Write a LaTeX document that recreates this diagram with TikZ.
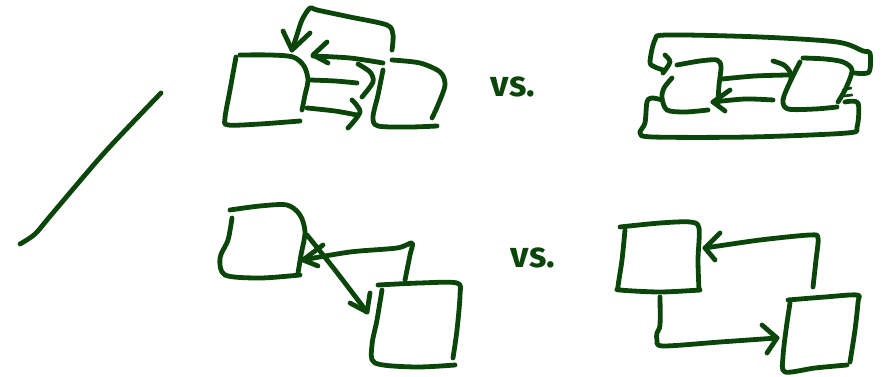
\documentclass[tikz,border=0pt]{standalone}
\usepackage{fontspec}
\setmainfont{Fira Sans}
\definecolor{inkgreen}{RGB}{10,70,10}
\tikzset{
  ink/.style={draw=inkgreen, line width=3.6pt, line cap=round, line join=round},
  vslabel/.style={text=inkgreen, font=\fontsize{27}{30}\selectfont\bfseries, inner sep=0pt}
}
\begin{document}
\begin{tikzpicture}[x=0.75pt,y=-0.75pt]
\useasboundingbox (0,0) rectangle (883,377);
% diagonal stroke
\draw[ink] plot[smooth] coordinates{(161,93) (105,152) (52,214) (35,234) (20,244)};

% ---------- top left pair ----------
\draw[ink] plot[smooth] coordinates{(240,55) (270,55) (293,57) (304,66) (308,80) (305,95) (302,110)};
\draw[ink] plot[smooth] coordinates{(236,57) (230,90) (225,118) (228,125) (260,124) (300,121)};
\draw[ink] plot[smooth] coordinates{(392,60) (420,63) (440,72) (445,85) (438,105) (432,118)};
\draw[ink] plot[smooth] coordinates{(383,70) (378,95) (373,117) (378,126) (410,127) (437,126)};
% arrows
\draw[ink] plot[smooth] coordinates{(310,80) (335,81) (357,83)};
\draw[ink] plot[smooth] coordinates{(358,64) (370,72) (373,82) (362,97)};
\draw[ink] plot[smooth] coordinates{(307,108) (335,111) (357,115)};
\draw[ink] plot[smooth] coordinates{(352,100) (360,112) (348,128)};
\draw[ink] plot[smooth] coordinates{(383,63) (350,58) (313,56)};
\draw[ink] (327,42) -- (313,55) -- (328,63);
\draw[ink] plot[smooth] coordinates{(392,50) (393,35) (387,25) (350,17) (317,10) (310,8) (302,20) (296,38) (292,50)};
\draw[ink] (283,31) -- (292,50) -- (310,33);

\node[vslabel] (vs1) at (513,87) {vs.};

% ---------- top right pair ----------
\draw[ink] plot[smooth] coordinates{(677,65) (700,61) (717,60) (721,67) (719,85) (718,102)};
\draw[ink] plot[smooth] coordinates{(672,78) (664,88) (662,98) (667,110) (685,112) (708,110)};
\draw[ink] plot[smooth] coordinates{(803,58) (825,59) (843,62) (852,70) (846,88) (838,102)};
\draw[ink] plot[smooth] coordinates{(800,62) (790,82) (783,100) (788,109) (815,109) (837,107)};
\draw[ink] plot[smooth] coordinates{(722,79) (755,76) (788,75)};
\draw[ink] plot[smooth] coordinates{(773,61) (784,65) (790,72) (791,80)};
\draw[ink] plot[smooth] coordinates{(773,100) (745,99) (713,102)};
\draw[ink] (730,90) -- (713,102) -- (725,111);
\draw[ink] plot[smooth] coordinates{(855,73) (869,72) (870,53) (863,51) (837,42) (760,37) (667,35) (655,40) (650,62) (655,67) (663,70)};
\draw[ink] plot[smooth] coordinates{(665,55) (670,62) (663,73)};
\draw[ink] plot[smooth] coordinates{(845,102) (858,103) (857,127) (847,133) (750,137) (653,137) (640,133) (645,123) (647,102) (652,98) (662,100)};
\draw[ink, line width=2pt] (843,90) -- (851,88);
\draw[ink, line width=2pt] (844,96) -- (852,95);

% ---------- bottom left pair ----------
\draw[ink] plot[smooth] coordinates{(230,210) (260,206) (287,205) (300,215) (305,232) (301,255) (298,273)};
\draw[ink] plot[smooth] coordinates{(232,218) (228,240) (220,258) (225,275) (260,278) (300,275)};
\draw[ink] plot[smooth] coordinates{(378,285) (420,283) (457,283) (460,295) (457,330) (453,358)};
\draw[ink] plot[smooth] coordinates{(382,290) (377,320) (372,345) (375,363) (415,367) (455,365)};
\draw[ink] plot[smooth] coordinates{(307,235) (335,270) (367,312)};
\draw[ink] (350,303) -- (367,312) -- (370,293);
\draw[ink] plot[smooth] coordinates{(405,280) (410,255) (412,243) (397,248) (350,252) (303,260)};
\draw[ink] (323,245) -- (303,260) -- (318,266);

\node[vslabel] (vs2) at (533,258) {vs.};

% ---------- bottom right pair ----------
\draw[ink] plot[smooth] coordinates{(620,227) (660,223) (690,222) (699,228) (698,260) (699,290)};
\draw[ink] plot[smooth] coordinates{(625,230) (622,260) (618,287) (620,290) (660,292) (700,290)};
\draw[ink] plot[smooth] coordinates{(788,300) (825,297) (857,295) (858,302) (855,330) (850,362)};
\draw[ink] plot[smooth] coordinates{(790,303) (786,330) (783,357) (785,372) (815,368) (847,365)};
\draw[ink] plot[smooth] coordinates{(813,287) (816,260) (818,238) (810,235) (760,240) (705,248)};
\draw[ink] (720,233) -- (705,248) -- (715,260);
\draw[ink] plot[smooth] coordinates{(660,297) (660,325) (657,333) (657,340) (663,346) (720,342) (777,338)};
\draw[ink] (762,325) -- (777,338) -- (767,353);
\end{tikzpicture}
\end{document}
